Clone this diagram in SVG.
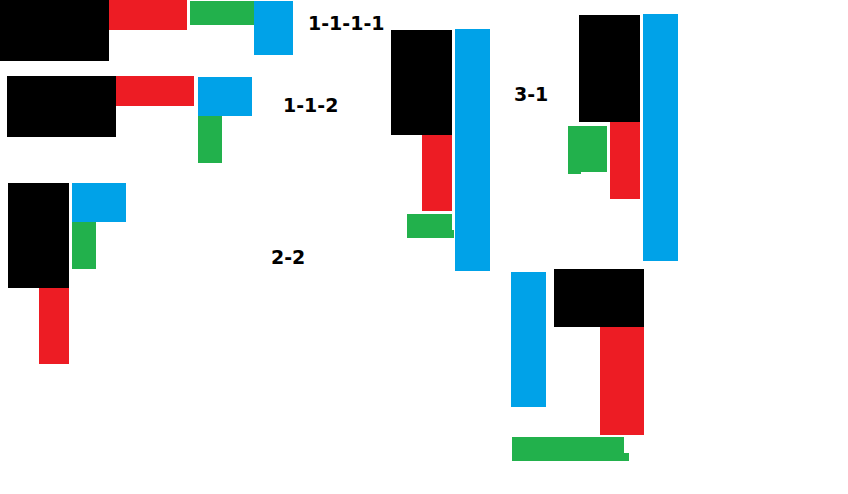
<svg xmlns="http://www.w3.org/2000/svg" width="848" height="494" viewBox="0 0 848 494">
<style>
.k{fill:#000000}
.r{fill:#ED1C24}
.g{fill:#22B14C}
.b{fill:#00A2E8}
.t{font-family:"DejaVu Sans",Verdana,sans-serif;font-weight:bold;font-size:19px;fill:#000000}
</style>
<rect x="0" y="0" width="848" height="494" fill="#ffffff"/>
<g id="group-1-1-1-1">
<rect class="k" x="0" y="0" width="109" height="61"/>
<rect class="r" x="109" y="0" width="78" height="30"/>
<rect class="g" x="190" y="1" width="64" height="24"/>
<rect class="b" x="254" y="1" width="39" height="54"/>
<text class="t" x="308" y="30">1-1-1-1</text>
</g>
<g id="group-1-1-2">
<rect class="k" x="7" y="76" width="109" height="61"/>
<rect class="r" x="116" y="76" width="78" height="30"/>
<rect class="b" x="198" y="77" width="54" height="39"/>
<rect class="g" x="198" y="116" width="24" height="47"/>
<text class="t" x="283" y="112">1-1-2</text>
</g>
<g id="group-2-2">
<rect class="k" x="8" y="183" width="61" height="105"/>
<rect class="b" x="72" y="183" width="54" height="39"/>
<rect class="g" x="72" y="222" width="24" height="47"/>
<rect class="r" x="39" y="288" width="30" height="76"/>
<text class="t" x="271" y="264">2-2</text>
</g>
<g id="group-a">
<rect class="k" x="391" y="30" width="61" height="105"/>
<rect class="b" x="455" y="29" width="35" height="242"/>
<rect class="r" x="422" y="135" width="30" height="76"/>
<polygon class="g" points="407,214 452,214 452,230 454,230 454,238 407,238"/>
</g>
<g id="group-3-1">
<text class="t" x="514" y="101">3-1</text>
<rect class="k" x="579" y="15" width="61" height="107"/>
<rect class="b" x="643" y="14" width="35" height="247"/>
<rect class="r" x="610" y="122" width="30" height="77"/>
<polygon class="g" points="568,126 607,126 607,172 581,172 581,174 568,174"/>
</g>
<g id="group-b">
<rect class="b" x="511" y="272" width="35" height="135"/>
<rect class="k" x="554" y="269" width="90" height="58"/>
<rect class="r" x="600" y="327" width="44" height="108"/>
<polygon class="g" points="512,437 624,437 624,453 629,453 629,461 512,461"/>
</g>
</svg>
